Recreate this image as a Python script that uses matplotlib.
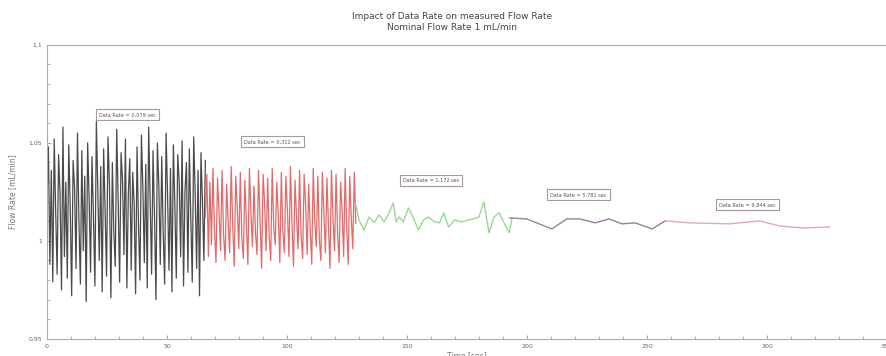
import numpy as np
import matplotlib
matplotlib.use("Agg")
import matplotlib.pyplot as plt
from matplotlib.ticker import MultipleLocator, FuncFormatter

# flow rate samples for each data rate (mL/min)
black_flow = [
    1.021, 1.048, 0.988, 1.036, 0.979, 1.052, 1.015, 0.983, 1.044, 1.024, 0.975, 1.058, 0.992, 1.030, 0.981, 1.049, 1.018, 0.972, 1.041, 1.027,
    0.986, 1.055, 1.010, 0.978, 1.046, 0.995, 1.033, 0.969, 1.050, 1.022, 0.984, 1.043, 1.012, 0.977, 1.061, 1.026, 0.990, 1.038, 0.974, 1.047,
    1.016, 0.982, 1.053, 1.029, 0.971, 1.040, 1.005, 0.987, 1.057, 1.020, 0.979, 1.045, 1.031, 0.993, 1.052, 0.976, 1.024, 1.042, 0.985, 1.035,
    1.019, 0.973, 1.048, 1.008, 0.980, 1.054, 1.027, 0.989, 1.039, 0.976, 1.058, 1.021, 0.983, 1.046, 1.013, 0.970, 1.050, 1.028, 0.988, 1.043,
    1.004, 0.978, 1.055, 1.023, 0.985, 1.037, 0.974, 1.049, 1.018, 0.981, 1.044, 1.030, 0.992, 1.051, 0.977, 1.026, 1.040, 0.984, 1.047, 1.011,
    0.979, 1.053, 1.024, 0.986, 1.036, 0.972, 1.045, 1.020, 0.990, 1.041,
]
red_flow = [
    1.012, 1.034, 0.992, 1.030, 0.998, 1.037, 1.006, 0.989, 1.032, 1.015, 0.995, 1.036, 1.003, 0.990, 1.029, 1.010, 0.994, 1.038, 1.008, 0.987,
    1.033, 1.017, 0.996, 1.035, 1.001, 0.991, 1.031, 1.009, 0.988, 1.037, 1.014, 0.997, 1.028, 1.004, 0.993, 1.036, 1.011, 0.986, 1.034, 1.019,
    0.995, 1.032, 1.002, 0.990, 1.037, 1.007, 0.998, 1.030, 1.013, 0.989, 1.035, 1.005, 0.994, 1.033, 1.016, 0.992, 1.038, 1.009, 0.987, 1.031,
    1.012, 0.996, 1.036, 1.003, 0.991, 1.034, 1.018, 0.993, 1.029, 1.006, 0.988, 1.037, 1.010, 0.997, 1.033, 1.001, 0.990, 1.035, 1.014, 0.994,
    1.032, 1.008, 0.986, 1.036, 1.011, 0.995, 1.034, 1.004, 0.989, 1.030, 1.015, 0.992, 1.037, 1.007, 0.988, 1.033, 1.012, 0.996, 1.035, 1.009,
]
green_time = [128.7, 130.0, 132.1, 134.2, 136.3, 138.4, 140.5, 142.6, 144.3, 145.5, 146.8, 148.5, 150.6, 152.7, 154.8, 156.9, 159.0,
              161.5, 163.6, 165.3, 167.4, 169.9, 172.8, 175.8, 177.9, 180.0, 182.1, 184.2, 186.3, 188.4, 190.5, 192.6, 193.8]
green_flow = [1.0184, 1.0107, 1.0056, 1.0122, 1.0092, 1.0133, 1.0097, 1.0143, 1.0194, 1.0097, 1.0122, 1.0097, 1.0168, 1.0117, 1.0056,
              1.0107, 1.0122, 1.0097, 1.0092, 1.0143, 1.0071, 1.0107, 1.0097, 1.0107, 1.0112, 1.0122, 1.0199, 1.0041, 1.0122, 1.0143,
              1.0092, 1.0041, 1.0117]
purple_time = [192.8, 199.9, 210.4, 216.6, 222.1, 228.4, 234.2, 239.6, 245.1, 252.2, 257.6]
purple_flow = [1.0117, 1.0112, 1.0061, 1.0112, 1.0112, 1.0092, 1.0112, 1.0087, 1.0092, 1.0061, 1.0102]
pink_time = [257.6, 267.7, 284.4, 297.0, 305.3, 314.9, 326.2]
pink_flow = [1.0102, 1.0092, 1.0087, 1.0102, 1.0076, 1.0066, 1.0071]

black_span = (0.0, 66.0)
red_span = (66.0, 128.7)

labels = ["Data Rate = 0,079 sec", "Data Rate = 0,312 sec", "Data Rate = 1,172 sec",
          "Data Rate = 5,781 sec", "Data Rate = 9,844 sec"]
label_x = [33.5, 94.0, 160.0, 221.5, 292.0]
label_y = [1.0643, 1.0505, 1.031, 1.0235, 1.0184]

fig = plt.figure(figsize=(8.86, 3.56), dpi=100)
ax = fig.add_axes([0.053, 0.048, 0.948, 0.826])

black_time = np.linspace(black_span[0], black_span[1], len(black_flow))
red_time = np.linspace(red_span[0], red_span[1], len(red_flow))

ax.plot(black_time, black_flow, color="#4a4a4a", lw=0.9)
ax.plot(red_time, red_flow, color="#e36a6a", lw=0.9)
ax.plot(green_time, green_flow, color="#9fd49a", lw=1.0)
ax.plot(purple_time, purple_flow, color="#9a7f9c", lw=1.0)
ax.plot(pink_time, pink_flow, color="#e6a8bc", lw=1.0)

for txt, x, y in zip(labels, label_x, label_y):
    ax.text(x, y, txt, fontsize=3.6, color="#555555", ha="center", va="center",
            bbox=dict(boxstyle="square,pad=0.6", fc="white", ec="#a89a9a", lw=0.8))

ax.set_xlim(0, 350)
ax.set_ylim(0.95, 1.1)
ax.xaxis.set_major_locator(MultipleLocator(50))
ax.xaxis.set_minor_locator(MultipleLocator(10))
ax.yaxis.set_major_locator(MultipleLocator(0.05))
ax.yaxis.set_minor_locator(MultipleLocator(0.01))
ax.yaxis.set_major_formatter(FuncFormatter(lambda v, p: ("%g" % round(v, 3)).replace(".", ",")))

ax.tick_params(which="both", direction="in", colors="#9a8f8f", labelcolor="#666666", labelsize=4.5)
ax.tick_params(which="major", length=3, width=0.6)
ax.tick_params(which="minor", length=2, width=0.5)
for s in ax.spines.values():
    s.set_color("#b8a8a8")
    s.set_linewidth(0.8)

ax.set_ylabel("Flow Rate [mL/min]", fontsize=5.5, color="#777777", labelpad=8)
ax.set_xlabel("Time [sec]", fontsize=5.5, color="#777777", labelpad=2)

fig.text(0.51, 0.955, "Impact of Data Rate on measured Flow Rate", ha="center", va="center", fontsize=6.5, color="#444444")
fig.text(0.51, 0.923, "Nominal Flow Rate 1 mL/min", ha="center", va="center", fontsize=6.5, color="#444444")

fig.savefig("out.png", dpi=100)
